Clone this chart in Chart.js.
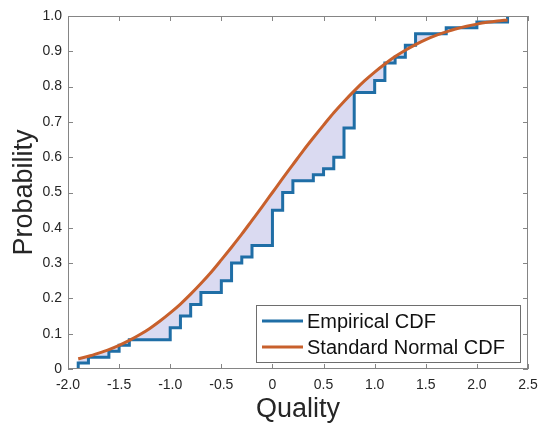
<!DOCTYPE html>
<html>
<head>
<meta charset="utf-8">
<script src="https://cdn.jsdelivr.net/npm/chart.js@4.4.1/dist/chart.umd.min.js"></script>
<style>
  html, body { margin: 0; padding: 0; background: #fff; }
</style>
</head>
<body>
<canvas id="myChart" width="540" height="426"></canvas>
<script>
// empirical CDF steps (x where the step happens, height after the step)
const ecdfX = [-1.9, -1.9, -1.8, -1.6, -1.5, -1.4, -1.0, -0.9, -0.8, -0.7, -0.5, -0.4, -0.3, -0.2,
  0.0, 0.1, 0.2, 0.4, 0.5, 0.6, 0.7, 0.8, 1.0, 1.1, 1.2, 1.3, 1.4, 1.7, 2.0, 2.3];
const ecdfY = [0, 0.017, 0.033, 0.05, 0.067, 0.083, 0.117, 0.15, 0.183, 0.217, 0.25, 0.3, 0.317, 0.35,
  0.45, 0.5, 0.533, 0.55, 0.567, 0.6, 0.683, 0.783, 0.817, 0.867, 0.883, 0.917, 0.95, 0.967, 0.983, 1.0];

// standard normal CDF curve
const normX = [-1.9, -1.8, -1.7, -1.6, -1.5, -1.4, -1.3, -1.2, -1.1, -1.0, -0.9, -0.8, -0.7, -0.6, -0.5,
  -0.4, -0.3, -0.2, -0.1, 0.0, 0.1, 0.2, 0.3, 0.4, 0.5, 0.6, 0.7, 0.8, 0.9, 1.0, 1.1, 1.2, 1.3, 1.4,
  1.5, 1.6, 1.7, 1.8, 1.9, 2.0, 2.1, 2.2, 2.3];
const normY = [0.029, 0.036, 0.045, 0.055, 0.067, 0.081, 0.097, 0.115, 0.136, 0.159, 0.184, 0.212,
  0.242, 0.274, 0.309, 0.345, 0.382, 0.421, 0.46, 0.5, 0.54, 0.579, 0.618, 0.655, 0.691, 0.726, 0.758,
  0.788, 0.816, 0.841, 0.864, 0.885, 0.903, 0.919, 0.933, 0.945, 0.955, 0.964, 0.971, 0.977, 0.982,
  0.986, 0.989];

const xTickLabels = ['-2.0', '-1.5', '-1.0', '-0.5', '0', '0.5', '1.0', '1.5', '2.0', '2.5'];
const yTickLabels = ['0', '0.1', '0.2', '0.3', '0.4', '0.5', '0.6', '0.7', '0.8', '0.9', '1.0'];

const blue = '#1f6ea6';
const orange = '#c8602c';
const shade = 'rgba(214, 214, 240, 0.9)';
const frame = '#858585';
const font = "'Liberation Sans', Arial, sans-serif";

// box round the axes, ticks pointing inward, legend in the lower right
const matlabBox = {
  id: 'matlabBox',
  afterDraw(chart) {
    const { ctx, chartArea: a, scales: { x, y } } = chart;
    ctx.save();
    ctx.strokeStyle = frame;
    ctx.lineWidth = 1;
    ctx.strokeRect(Math.round(a.left) + 0.5, Math.round(a.top) + 0.5,
      Math.round(a.width) - 1, Math.round(a.height) - 1);
    ctx.beginPath();
    x.ticks.forEach(t => {
      const px = Math.round(x.getPixelForValue(t.value)) + 0.5;
      ctx.moveTo(px, a.bottom); ctx.lineTo(px, a.bottom - 5);
      ctx.moveTo(px, a.top); ctx.lineTo(px, a.top + 5);
    });
    y.ticks.forEach(t => {
      const py = Math.round(y.getPixelForValue(t.value)) + 0.5;
      ctx.moveTo(a.left, py); ctx.lineTo(a.left + 5, py);
      ctx.moveTo(a.right, py); ctx.lineTo(a.right - 5, py);
    });
    ctx.stroke();

    // legend
    const lx = 256, ly = 305, lw = 264, lh = 57;
    ctx.fillStyle = '#fff';
    ctx.fillRect(lx, ly, lw, lh);
    ctx.strokeStyle = '#6e6e6e';
    ctx.strokeRect(lx + 0.5, ly + 0.5, lw, lh);
    ctx.font = '20px ' + font;
    ctx.textBaseline = 'middle';
    chart.data.datasets.forEach((ds, i) => {
      const yy = ly + 16 + i * 26;
      ctx.strokeStyle = ds.borderColor;
      ctx.lineWidth = 3;
      ctx.beginPath();
      ctx.moveTo(lx + 6, yy); ctx.lineTo(lx + 47, yy);
      ctx.stroke();
      ctx.fillStyle = '#111';
      ctx.fillText(ds.label, lx + 51, yy + 1);
    });
    ctx.restore();
  }
};

const ctx = document.getElementById('myChart').getContext('2d');

const myChart = new Chart(ctx, {
  type: 'line',
  data: {
    datasets: [{
      label: 'Empirical CDF',
      data: ecdfX.map((v, i) => ({ x: v, y: ecdfY[i] })),
      borderColor: blue,
      borderWidth: 3,
      stepped: 'before',
      pointRadius: 0,
      fill: { target: 1, above: shade, below: shade },
      order: 2
    }, {
      label: 'Standard Normal CDF',
      data: normX.map((v, i) => ({ x: v, y: normY[i] })),
      borderColor: orange,
      borderWidth: 3,
      cubicInterpolationMode: 'monotone',
      pointRadius: 0,
      fill: false,
      order: 1
    }]
  },
  options: {
    responsive: false,
    animation: false,
    layout: { padding: { left: 0, right: 12, top: 16, bottom: 0 } },
    scales: {
      x: {
        type: 'linear',
        min: -2,
        max: 2.5,
        afterFit: s => { s.height = 57; s.paddingRight = 0; s.paddingLeft = 0; },
        grid: { display: false, drawTicks: false },
        border: { display: false },
        ticks: {
          stepSize: 0.5,
          padding: 8,
          maxRotation: 0,
          color: '#262626',
          font: { family: font, size: 14 },
          callback: (v, i) => xTickLabels[i]
        },
        title: {
          display: true,
          text: 'Quality',
          color: '#262626',
          padding: 0,
          font: { family: font, size: 27 }
        }
      },
      y: {
        min: 0,
        max: 1,
        afterFit: s => { s.width = 68; s.paddingTop = 0; s.paddingBottom = 0; },
        grid: { display: false, drawTicks: false },
        border: { display: false },
        ticks: {
          stepSize: 0.1,
          padding: 6,
          color: '#262626',
          font: { family: font, size: 14 },
          callback: (v, i) => yTickLabels[i]
        },
        title: {
          display: true,
          text: 'Probability',
          color: '#262626',
          padding: { top: 8, bottom: 0 },
          font: { family: font, size: 27 }
        }
      }
    },
    plugins: {
      legend: { display: false },
      tooltip: { enabled: false }
    }
  },
  plugins: [matlabBox]
});
</script>
</body>
</html>
